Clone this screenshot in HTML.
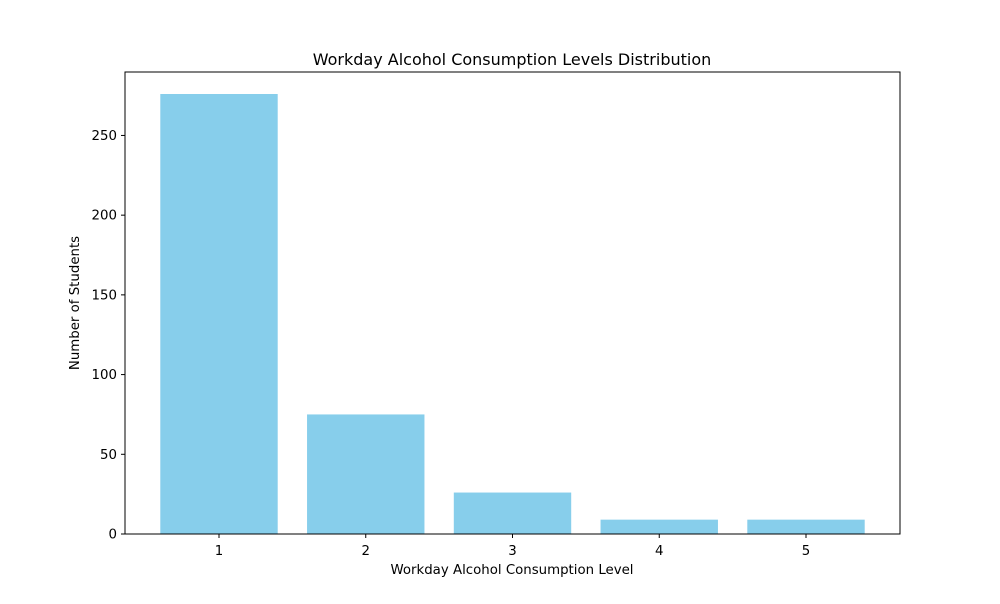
<!DOCTYPE html>
<html><head><meta charset="utf-8"><style>
body{margin:0;background:#fff;font-family:"DejaVu Sans","Liberation Sans",sans-serif;}
</style></head><body>
<svg id="chart" width="1000" height="600" xmlns="http://www.w3.org/2000/svg" font-family="DejaVu Sans, Liberation Sans, sans-serif">
<rect width="1000" height="600" fill="#fff"/>
<text x="512" y="65" text-anchor="middle" font-size="16">Workday Alcohol Consumption Levels Distribution</text>
<g id="bars"></g>
<g id="axes"></g>
<rect x="125" y="72" width="775" height="462" fill="none" stroke="#000" stroke-width="1"/>
<text x="512" y="574" text-anchor="middle" font-size="13.33">Workday Alcohol Consumption Level</text>
<text transform="translate(79,303) rotate(-90)" text-anchor="middle" font-size="13.33">Number of Students</text>
</svg>
<script>
const categories = ["1","2","3","4","5"];
const counts = [276, 75, 26, 9, 9];
const yTicks = [0, 50, 100, 150, 200, 250];
const NS="http://www.w3.org/2000/svg";
const y0=534, yMax=289.8, plotH=462;
const yScale=v=>y0 - v/yMax*plotH;
const unit=146.75;
const xScale=i=>219+unit*i;
const bars=document.getElementById('bars'), axes=document.getElementById('axes');
function mk(tag,attrs,parent){const e=document.createElementNS(NS,tag);for(const k in attrs)e.setAttribute(k,attrs[k]);parent.appendChild(e);return e;}
counts.forEach((v,i)=>{
  const r=mk('rect',{x:xScale(i)-unit*0.4,y:yScale(v),width:unit*0.8,height:y0-yScale(v),fill:'#87ceeb'},bars);
  
  
  const t=mk('line',{x1:xScale(i),x2:xScale(i),y1:534,y2:538,stroke:'#000'},axes);
  
  
  const l=mk('text',{x:xScale(i),y:555,'text-anchor':'middle','font-size':13.33},axes);
  l.textContent=categories[i];
  
  
});
yTicks.forEach(v=>{
  const y=yScale(v);
  const t=mk('line',{x1:121,x2:125,y1:y,y2:y,stroke:'#000'},axes);
  
  
  const l=mk('text',{x:117,y:y+4.5,'text-anchor':'end','font-size':13.33},axes);
  l.textContent=v;
  
  
});
</script>
</body></html>
